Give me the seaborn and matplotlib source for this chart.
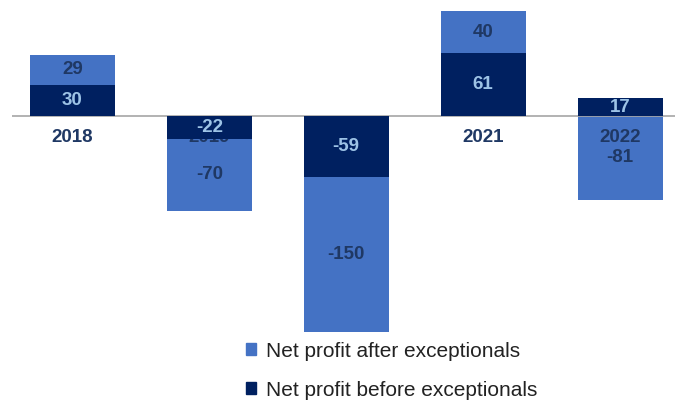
import numpy as np
import pandas as pd
import seaborn as sns
import matplotlib.pyplot as plt
from matplotlib.patches import Patch

# dados
anos = ["2018", "2019", "2020", "2021", "2022"]
antes = [30, -22, -59, 61, 17]      # Net profit before exceptionals
depois = [29, -70, -150, 40, -81]   # Net profit after exceptionals

cor_clara = "#4472C4"
cor_escura = "#002060"

sns.set_theme(style="white")
plt.rcParams["font.family"] = ["Liberation Sans", "DejaVu Sans"]

tabela = pd.DataFrame({"ano": anos, "antes": antes, "depois": depois})
# empilha a barra clara sobre a escura quando tem o mesmo sinal
tabela["base"] = np.where(np.sign(tabela["antes"]) == np.sign(tabela["depois"]), tabela["antes"], 0)

fig = plt.figure(figsize=(6.75, 4.01), dpi=100)
ax = fig.add_axes([12 / 675, 1 - 335 / 401, 663 / 675, 335 / 401])

sns.barplot(data=tabela, x="ano", y="depois", bottom=tabela["base"], color=cor_clara,
            width=0.62, saturation=1, linewidth=0, ax=ax, zorder=1)
sns.barplot(data=tabela, x="ano", y="antes", color=cor_escura,
            width=0.62, saturation=1, linewidth=0, ax=ax, zorder=3)

# rótulos das categorias ficam entre as barras claras e escuras
for i, ano in enumerate(anos):
    ax.annotate(ano, (i, 0), xytext=(0, -15.5), textcoords="offset points", ha="center", va="center",
                fontsize=13.5, fontweight="bold", color="#1F3864", zorder=2)

# valores
for i in range(len(anos)):
    ax.text(i, antes[i] / 2, str(antes[i]), ha="center", va="center", fontsize=13.5,
            fontweight="bold", color="#9DC3E6", zorder=4)
    ax.text(i, tabela["base"][i] + depois[i] / 2, str(depois[i]), ha="center", va="center",
            fontsize=13.5, fontweight="bold", color="#1F3864", zorder=4)

ax.axhline(0, color="#A6A6A6", lw=1.2, zorder=2.5)
ax.set_xlim(-0.44, 4.40)
ax.set_ylim(-211.6, 112)
ax.set_xlabel("")
ax.set_ylabel("")
ax.set_xticks([])
ax.set_yticks([])
sns.despine(ax=ax, left=True, bottom=True)

handles = [Patch(color=cor_clara, label="Net profit after exceptionals"),
           Patch(color=cor_escura, label="Net profit before exceptionals")]
fig.legend(handles=handles, loc="upper left", bbox_to_anchor=(227 / 675, 1 - 323 / 401),
           frameon=False, fontsize=15, handlelength=0.5, handleheight=0.5, handletextpad=0.45,
           labelspacing=0.95, labelcolor="#222222")

fig.savefig("out.png", dpi=100)
